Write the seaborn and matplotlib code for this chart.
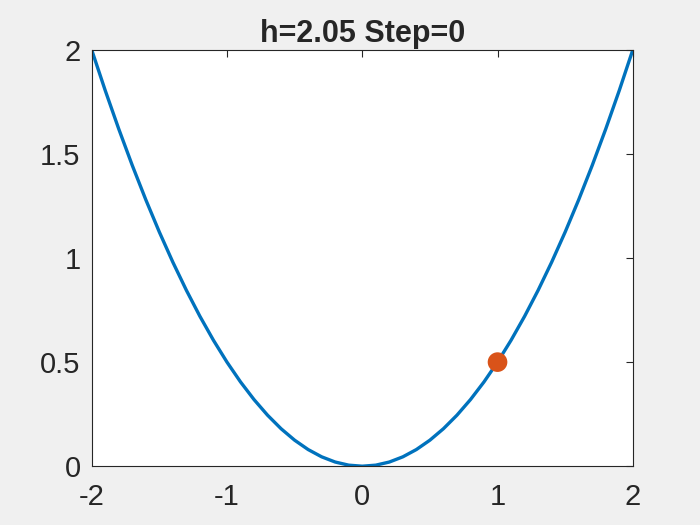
import numpy as np
import pandas as pd
import matplotlib
matplotlib.use("Agg")
import matplotlib.pyplot as plt
import seaborn as sns

# curve values (y = x^2 / 2 shape)
x_vals = [-2.0, -1.9, -1.8, -1.7, -1.6, -1.5, -1.4, -1.3, -1.2, -1.1, -1.0,
          -0.9, -0.8, -0.7, -0.6, -0.5, -0.4, -0.3, -0.2, -0.1, 0.0,
          0.1, 0.2, 0.3, 0.4, 0.5, 0.6, 0.7, 0.8, 0.9, 1.0,
          1.1, 1.2, 1.3, 1.4, 1.5, 1.6, 1.7, 1.8, 1.9, 2.0]
y_vals = [2.0, 1.805, 1.62, 1.445, 1.28, 1.125, 0.98, 0.845, 0.72, 0.605, 0.5,
          0.405, 0.32, 0.245, 0.18, 0.125, 0.08, 0.045, 0.02, 0.005, 0.0,
          0.005, 0.02, 0.045, 0.08, 0.125, 0.18, 0.245, 0.32, 0.405, 0.5,
          0.605, 0.72, 0.845, 0.98, 1.125, 1.28, 1.445, 1.62, 1.805, 2.0]
point_x = [1.0]
point_y = [0.5]
title_text = "h=2.05 Step=0"
x_ticks = [-2, -1, 0, 1, 2]
y_ticks = [0, 0.5, 1, 1.5, 2]
y_tick_labels = ["0", "0.5", "1", "1.5", "2"]

sns.set_style("white")
plt.rcParams['font.family'] = ['Liberation Sans', 'DejaVu Sans']

df_curve = pd.DataFrame({"x": x_vals, "y": y_vals})
df_pt = pd.DataFrame({"x": point_x, "y": point_y})

fig = plt.figure(figsize=(7, 5.25), dpi=100, facecolor='#f0f0f0')
ax = fig.add_axes([0.131, 0.112, 0.773, 0.793])
ax.set_facecolor('white')

sns.lineplot(data=df_curve, x="x", y="y", ax=ax, color='#0072BD', linewidth=2.4)
sns.scatterplot(data=df_pt, x="x", y="y", ax=ax, color='#D95319', s=200,
                edgecolor='none', zorder=3)

ax.set_xlim(-2, 2)
ax.set_ylim(0, 2)
ax.set_xticks(x_ticks)
ax.set_xticklabels([str(t) for t in x_ticks])
ax.set_yticks(y_ticks)
ax.set_yticklabels(y_tick_labels)
ax.set_xlabel("")
ax.set_ylabel("")
ax.tick_params(direction='in', length=5, width=0.8, labelsize=21, colors='#262626',
               top=True, right=True)
ax.tick_params(axis='x', pad=12)
ax.tick_params(axis='y', pad=8)
for s in ax.spines.values():
    s.set_color('#262626')
    s.set_linewidth(0.8)
ax.set_title(title_text, fontsize=22, fontweight='bold', pad=6)

fig.savefig("out.png", dpi=100, facecolor=fig.get_facecolor())
